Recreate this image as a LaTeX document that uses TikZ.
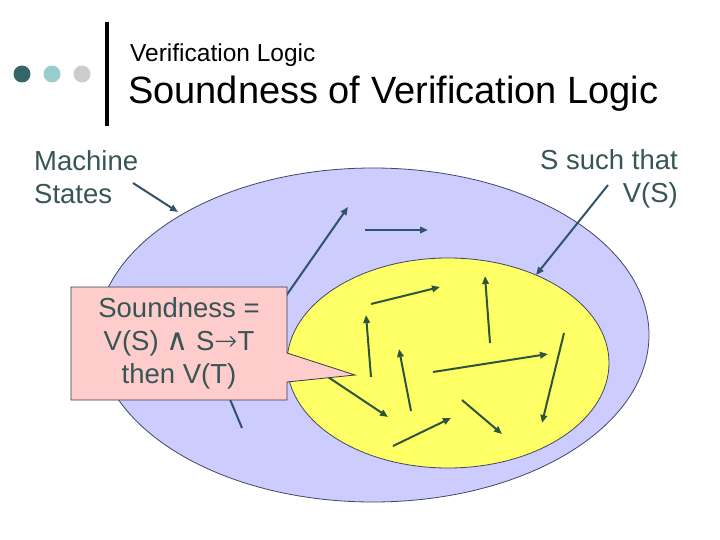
\documentclass[tikz,border=0pt]{standalone}
\usepackage{fontspec}
\setmainfont{Liberation Sans}
\newfontfamily\symfnt{DejaVu Sans}
\newfontfamily\arrfnt{DejaVu Sans ExtraLight}
\usetikzlibrary{arrows.meta,shapes.geometric}
\definecolor{lbl}{RGB}{55,85,85}
\definecolor{dotA}{RGB}{51,102,102}
\definecolor{dotB}{RGB}{153,204,204}
\definecolor{dotC}{RGB}{204,204,204}
\definecolor{blueFill}{RGB}{204,204,255}
\definecolor{yelFill}{RGB}{255,255,102}
\definecolor{pinkFill}{RGB}{255,204,204}
\definecolor{edge}{RGB}{64,72,96}
\definecolor{arrB}{RGB}{50,82,105}
\definecolor{arrY}{RGB}{45,85,60}
\tikzset{
  bigtxt/.style={font=\fontsize{27.5}{33}\selectfont, inner sep=0pt},
  trans/.style={line width=2pt, -{Triangle[length=8pt,width=6.5pt]}},
  btrans/.style={trans, draw=arrB},
  ytrans/.style={trans, draw=arrY},
  dot/.style={circle, inner sep=0pt, minimum size=17pt}
}
\begin{document}
\begin{tikzpicture}[x=1pt,y=-1pt]
\useasboundingbox (0,0) rectangle (720,540);
% header
\node[dot, fill=dotA] (d1) at (22,74) {};
\node[dot, fill=dotB] (d2) at (52,74) {};
\node[dot, fill=dotC] (d3) at (82,74) {};
\coordinate (bt) at (107,22);
\coordinate (bb) at (107,126);
\draw[line width=4pt] (bt) -- (bb);
\node[anchor=base west, inner sep=0pt, font=\fontsize{24.5}{28}\selectfont] (sub) at (130,62) {Verification Logic};
\node[anchor=base west, inner sep=0pt, font=\fontsize{38}{44}\selectfont] (ttl) at (128,104) {Soundness of Verification Logic};
% sets
\node[ellipse, draw=edge, line width=0.8pt, fill=blueFill, minimum width=552pt, minimum height=334pt, inner sep=0pt] (states) at (373,335) {};
% transitions in blue region
\coordinate (b1s) at (272,316); \coordinate (b1e) at (348,207);
\coordinate (b2s) at (365,230); \coordinate (b2e) at (428,230);
\coordinate (b3s) at (242,428); \coordinate (b3e) at (224,385);
\draw[btrans] (b1s) -- (b1e);
\draw[btrans] (b2s) -- (b2e);
\draw[btrans] (b3s) -- (b3e);
\node[ellipse, draw=edge, line width=0.8pt, fill=yelFill, minimum width=322pt, minimum height=210pt, inner sep=0pt] (valid) at (448,363) {};
% transitions in yellow region
\coordinate (ya) at (371,304); \coordinate (yA) at (440,287);
\coordinate (yb) at (490,343); \coordinate (yB) at (485,276);
\coordinate (yc) at (371,377); \coordinate (yC) at (366,315);
\coordinate (yd) at (411,411); \coordinate (yD) at (399,349);
\coordinate (ye) at (433,372); \coordinate (yE) at (548,354);
\coordinate (yf) at (564,333); \coordinate (yF) at (542,423);
\coordinate (yg) at (322,373); \coordinate (yG) at (388,417);
\coordinate (yh) at (393,446); \coordinate (yH) at (451,418);
\coordinate (yi) at (462,400); \coordinate (yI) at (502,434);
\foreach \s/\e in {ya/yA, yb/yB, yc/yC, yd/yD, ye/yE, yf/yF, yg/yG, yh/yH, yi/yI}
  \draw[ytrans] (\s) -- (\e);
% labels
\node[bigtxt, text=lbl, align=left, anchor=north west] (ms) at (34,150) {Machine\\States};
\coordinate (msA) at (133,183); \coordinate (msB) at (178,212);
\draw[btrans] (msA) -- (msB);
\node[bigtxt, text=lbl, align=right, anchor=north east] (vs) at (678,149.5) {S such that\\V(S)};
\coordinate (vsA) at (608,185); \coordinate (vsB) at (536,275);
\draw[btrans] (vsA) -- (vsB);
% callout
\draw[draw=edge!80!black, line width=0.8pt, fill=pinkFill]
  (71,287) -- (287,287) -- (287,353) -- (355,375) -- (287,382) -- (287,400) -- (71,400) -- cycle;
\node[bigtxt, text=lbl, align=center, anchor=north] (snd) at (179,297.5)
  {Soundness =\\V(S) {\symfnt\scalebox{1.1}{∧}} S{\arrfnt →}T\\then V(T)};
\end{tikzpicture}
\end{document}
